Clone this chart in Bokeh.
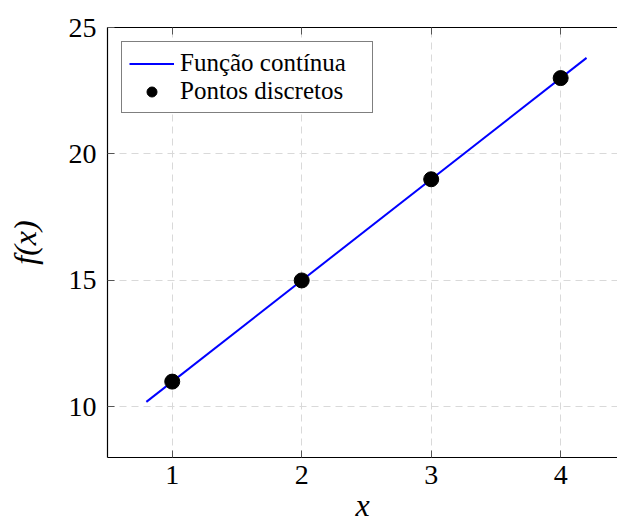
from bokeh.plotting import figure
from bokeh.models import Range1d, LinearAxis, Legend, LegendItem, FixedTicker
from bokeh.embed import file_html
from bokeh.resources import INLINE

# ---- data ----
line_x = [0.8, 4.2]
line_y = [10.2, 23.8]
pts_x = [1, 2, 3, 4]
pts_y = [11, 15, 19, 23]
x_ticks = [1, 2, 3, 4]
y_ticks = [10, 15, 20, 25]
line_label = "Função contínua"
pts_label = "Pontos discretos"
x_title = "x"
y_title = "f(x)"

FONT = "'Liberation Serif', 'DejaVu Serif', serif"

p = figure(width=617, height=525, output_backend="svg", toolbar_location=None,
           x_range=Range1d(0.5, 4.439), y_range=Range1d(8, 25),
           min_border_left=107, min_border_right=0, min_border_top=27,
           min_border_bottom=68)
p.outline_line_color = None
p.background_fill_color = "white"
p.border_fill_color = "white"

# grids
for g, t in ((p.xgrid, x_ticks), (p.ygrid, y_ticks)):
    g.ticker = FixedTicker(ticks=t)
    g.grid_line_color = "#d9d9d9"
    g.grid_line_dash = "7 5"
    g.grid_line_width = 1

def style_axis(ax, ticks):
    ax.ticker = FixedTicker(ticks=ticks)
    ax.minor_tick_line_color = None
    ax.major_tick_in = 7
    ax.major_tick_out = 0
    ax.major_tick_line_color = "#555555"
    ax.axis_line_color = "black"
    ax.axis_line_width = 1.2
    ax.major_label_text_font = FONT
    ax.major_label_text_font_size = "28px"
    ax.major_label_text_color = "black"

style_axis(p.xaxis[0], x_ticks)
p.xaxis.major_label_standoff = 8
p.xaxis.axis_label = x_title
p.xaxis.axis_label_text_font = FONT
p.xaxis.axis_label_text_font_style = "italic"
p.xaxis.axis_label_text_font_size = "32px"
p.xaxis.axis_label_text_color = "black"
p.xaxis.axis_label_standoff = 0

style_axis(p.yaxis[0], y_ticks)
p.yaxis.major_label_standoff = 11
p.yaxis.axis_label = y_title
p.yaxis.axis_label_text_font = FONT
p.yaxis.axis_label_text_font_style = "italic"
p.yaxis.axis_label_text_font_size = "32px"
p.yaxis.axis_label_text_color = "black"
p.yaxis.axis_label_standoff = 23

# top frame edge with inward ticks (no labels)
top = LinearAxis()
style_axis(top, x_ticks)
top.major_label_text_font_size = "1px"
top.major_label_text_color = None
top.major_label_standoff = 0
top.axis_line_width = 1
p.add_layout(top, "above")

r_line = p.line(line_x, line_y, line_color="#0000ff", line_width=2)
r_pts = p.scatter(pts_x, pts_y, size=15, fill_color="black", line_color="black")

legend = Legend(items=[LegendItem(label=line_label, renderers=[r_line]),
                       LegendItem(label=pts_label, renderers=[r_pts])],
                location="top_left", margin=14, padding=7, spacing=0,
                glyph_width=45, glyph_height=25, label_standoff=6,
                label_width=185,
                label_text_font=FONT, label_text_font_size="25px",
                label_text_color="black",
                border_line_color="black", border_line_width=1,
                background_fill_color="white", background_fill_alpha=1)
p.add_layout(legend)

open("out.html", "w").write(file_html(p, INLINE))
